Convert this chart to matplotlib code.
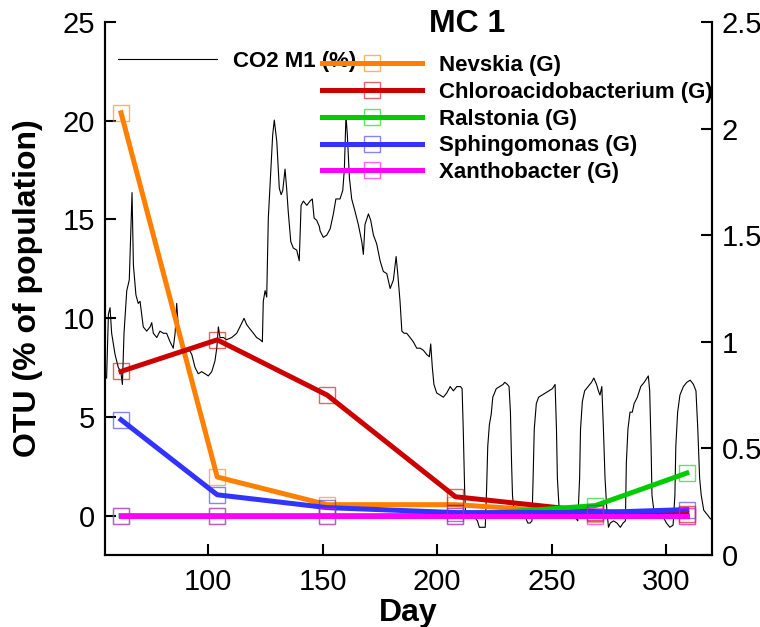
import matplotlib
matplotlib.use("Agg")
import matplotlib.pyplot as plt
from matplotlib.colors import to_rgba

plt.rcParams['font.family'] = ['Liberation Sans', 'DejaVu Sans']

# OTU data (% of population)
days = [62, 104, 152, 208, 269, 309]
nevskia = [20.4, 1.95, 0.55, 0.55, 0.1, 0.0]
chloro = [7.3, 8.9, 6.1, 0.95, 0.2, 0.1]
ralstonia = [0.0, 0.0, 0.0, 0.0, 0.5, 2.15]
sphingo = [4.85, 1.05, 0.4, 0.15, 0.15, 0.3]
xantho = [0.0, 0.0, 0.0, 0.0, 0.0, 0.0]

taxa = ["Nevskia (G)", "Chloroacidobacterium (G)", "Ralstonia (G)",
        "Sphingomonas (G)", "Xanthobacter (G)"]
colors = ["#FF8000", "#CC0000", "#00CC00", "#3333FF", "#FF00FF"]

# CO2 M1 (%) trace
co2_day = [55.7, 56.5, 57.2, 57.9, 59.4, 60.8, 61.9, 62.6, 63.3, 64.5, 65.6, 66.2,
           66.8, 67.4, 68.5, 69.5, 70.3, 71.0, 71.7, 73.2, 74.7, 75.4, 76.1, 77.6,
           79.0, 80.5, 81.9, 83.4, 84.8, 85.6, 86.3, 87.0, 88.5, 89.9, 91.4, 92.9,
           94.3, 95.7, 97.2, 98.7, 100.1, 101.6, 103.0, 103.8, 104.5, 105.2, 106.7,
           108.1, 110.3, 112.5, 113.9, 115.7, 116.9, 118.3, 119.8, 121.2, 122.7,
           123.7, 124.1, 124.9, 125.6, 126.3, 127.4, 128.2, 128.9, 130.0, 131.1,
           131.9, 132.6, 133.6, 134.3, 135.0, 136.1, 137.2, 138.7, 139.8, 140.6,
           141.6, 143.1, 144.5, 145.5, 146.3, 147.4, 148.6, 148.9, 150.3, 151.8,
           153.3, 154.7, 155.8, 157.6, 158.8, 159.5, 160.2, 160.8, 161.7, 162.7,
           164.2, 165.6, 167.1, 167.8, 168.5, 170.0, 171.0, 172.2, 173.6, 175.1,
           176.5, 178.0, 179.5, 180.9, 182.1, 182.8, 183.8, 184.6, 185.6, 186.7,
           188.2, 189.6, 191.1, 192.6, 194.0, 195.5, 196.6, 197.2, 197.9, 198.6,
           199.8, 201.3, 202.7, 204.2, 205.7, 207.1, 208.6, 210.2, 210.9, 211.4,
           212.0, 212.4, 213.2, 214.7, 216.1, 217.6, 218.4, 219.8, 221.0, 221.6,
           222.1, 222.8, 223.6, 224.3, 225.8, 227.3, 228.8, 229.5, 230.7, 231.4,
           232.0, 232.5, 232.9, 233.6, 235.4, 238.4, 239.6, 240.6, 241.4, 241.9,
           242.4, 243.3, 244.3, 245.8, 247.3, 248.8, 250.3, 251.5, 252.1, 252.5,
           253.3, 254.7, 257.7, 260.0, 261.4, 262.2, 262.6, 263.4, 264.4, 265.9,
           267.4, 268.4, 269.6, 270.4, 271.1, 271.9, 272.6, 273.3, 274.1, 274.8,
           275.6, 277.0, 278.5, 280.0, 281.2, 282.2, 282.6, 283.3, 284.2, 285.2,
           286.0, 287.4, 288.9, 290.4, 292.2, 292.8, 293.4, 293.8, 294.6, 296.3,
           298.6, 300.1, 301.6, 303.0, 303.8, 304.2, 305.0, 306.0, 307.5, 309.0,
           310.5, 311.9, 313.0, 313.8, 314.6, 315.3, 316.4, 317.9, 319.3, 320.8]
co2_val = [0.83, 1.13, 1.16, 1.04, 0.94, 0.88, 0.86, 0.80, 1.04, 1.24, 1.29, 1.50,
           1.70, 1.36, 1.22, 1.18, 1.19, 1.13, 1.07, 1.05, 1.07, 1.09, 1.04, 1.02,
           1.05, 1.04, 1.04, 1.00, 0.97, 1.04, 1.18, 1.07, 0.97, 0.94, 0.97, 0.94,
           0.88, 0.85, 0.86, 0.85, 0.84, 0.86, 0.91, 0.97, 1.07, 1.02, 1.02,
           1.01, 1.02, 1.04, 1.07, 1.11, 1.08, 1.06, 1.04, 1.02, 1.01,
           1.00, 1.19, 1.24, 1.21, 1.58, 1.81, 1.97, 2.04, 1.94, 1.72,
           1.69, 1.71, 1.81, 1.72, 1.61, 1.47, 1.44, 1.43, 1.38, 1.64,
           1.66, 1.64, 1.66, 1.67, 1.58, 1.57, 1.54, 1.52, 1.49, 1.50,
           1.53, 1.60, 1.67, 1.67, 1.71, 1.81, 2.06, 1.97, 1.77, 1.67,
           1.61, 1.55, 1.47, 1.41, 1.55, 1.60, 1.57, 1.50, 1.46, 1.38,
           1.33, 1.32, 1.25, 1.29, 1.40, 1.32, 1.19, 1.05, 1.04, 1.04,
           1.02, 1.00, 0.97, 0.97, 0.96, 0.94, 0.93, 0.99, 0.88, 0.80,
           0.76, 0.75, 0.74, 0.76, 0.79, 0.77, 0.79, 0.79, 0.78, 0.59,
           0.31, 0.20, 0.18, 0.19, 0.18, 0.16, 0.13, 0.13, 0.13, 0.31,
           0.51, 0.61, 0.66, 0.74, 0.78, 0.79, 0.80, 0.81, 0.80, 0.79,
           0.67, 0.43, 0.28, 0.20, 0.19, 0.18, 0.15, 0.15, 0.16, 0.36,
           0.59, 0.71, 0.74, 0.75, 0.76, 0.77, 0.78, 0.80, 0.59, 0.36,
           0.21, 0.20, 0.19, 0.18, 0.16, 0.36, 0.59, 0.72, 0.77, 0.79,
           0.81, 0.83, 0.80, 0.77, 0.75, 0.79, 0.59, 0.36, 0.21, 0.13,
           0.15, 0.16, 0.15, 0.13, 0.15, 0.16, 0.43, 0.59, 0.67, 0.67,
           0.71, 0.74, 0.79, 0.81, 0.84, 0.77, 0.51, 0.28, 0.21, 0.19,
           0.18, 0.15, 0.13, 0.14, 0.28, 0.51, 0.67, 0.75, 0.79, 0.81,
           0.82, 0.80, 0.77, 0.59, 0.36, 0.28, 0.21, 0.19, 0.17, 0.16]

fig = plt.figure(figsize=(7.6, 6.27), dpi=100)
ax = fig.add_axes([105 / 760, 1 - 555 / 627, 607 / 760, 533 / 627])
ax2 = ax.twinx()

# CO2 on the right axis, behind the OTU lines
co2_line, = ax2.plot(co2_day, co2_val, color="black", lw=0.8)
ax.set_zorder(ax2.get_zorder() + 1)
ax.patch.set_visible(False)

handles = []
for label, vals, c in zip(taxa, [nevskia, chloro, ralstonia, sphingo, xantho], colors):
    h, = ax.plot(days, vals, color=c, lw=3.6, marker="s", markersize=11,
                 markerfacecolor="none", markeredgecolor=to_rgba(c, 0.6),
                 markeredgewidth=1.0, label=label)
    handles.append(h)

ax.set_xlim(55, 320)
ax.set_ylim(-2, 25)
ax2.set_ylim(0, 2.5)
ax.set_xticks([100, 150, 200, 250, 300])
ax.set_yticks([0, 5, 10, 15, 20, 25])
ax2.set_yticks([0, 0.5, 1, 1.5, 2, 2.5])
ax2.set_yticklabels(["0", "0.5", "1", "1.5", "2", "2.5"])

for a in (ax, ax2):
    a.spines["top"].set_visible(False)
    for s in a.spines.values():
        s.set_linewidth(1.5)
    a.tick_params(direction="in", length=8, width=1.5, labelsize=21, pad=7)
ax.tick_params(axis="x", pad=9)

ax.set_xlabel("Day", fontsize=23, fontweight="bold", labelpad=2)
ax.set_ylabel("OTU (% of population)", fontsize=23, fontweight="bold", labelpad=14)
ax.text(0.596, 0.997, "MC 1", transform=ax.transAxes, ha="center", va="center",
        fontsize=23, fontweight="bold")

leg1 = fig.legend([co2_line], ["CO2 M1 (%)"], loc="upper left",
                  bbox_to_anchor=(118 / 760, 1 - 51 / 627), frameon=False,
                  borderpad=0, borderaxespad=0, handlelength=4.45, handletextpad=0.72,
                  prop={"size": 16, "weight": "bold"})
leg2 = fig.legend(handles, taxa, loc="upper left",
                  bbox_to_anchor=(322 / 760, 1 - 55 / 627), frameon=False,
                  borderpad=0, borderaxespad=0, handlelength=4.5, handletextpad=0.77,
                  labelspacing=0.26, numpoints=1,
                  prop={"size": 16, "weight": "bold"})

fig.savefig("out.png", dpi=100)
